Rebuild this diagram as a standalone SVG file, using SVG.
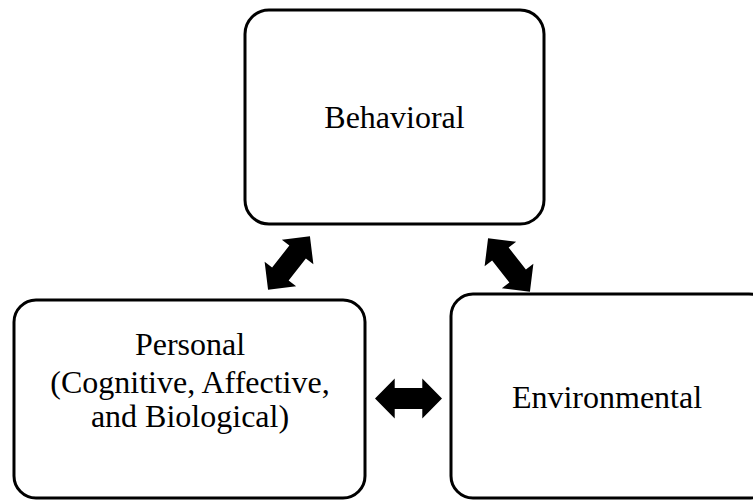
<svg xmlns="http://www.w3.org/2000/svg" width="753" height="500" viewBox="0 0 753 500">
<style>
.box{fill:#fff;stroke:#000;stroke-width:3}
.lbl{font-family:"Liberation Serif","Times New Roman",serif;font-size:32px;fill:#000;text-anchor:middle}
.arr{fill:#000;stroke:none}
</style>
<defs>
<polygon id="dbl" points="-34,0 -14,-20 -14,-10.5 14,-10.5 14,-20 34,0 14,20 14,10.5 -14,10.5 -14,20"/>
</defs>
<rect width="753" height="500" fill="#fff"/>
<g id="connectors" class="arr">
<use href="#dbl" transform="translate(289,263) rotate(-52)"/>
<use href="#dbl" transform="translate(509,265) rotate(52)"/>
<use href="#dbl" transform="translate(408.5,398.5) scale(0.985,1)"/>
</g>
<g id="behavioral">
<rect class="box" x="245" y="10" width="299" height="214" rx="24"/>
<text class="lbl" x="394.5" y="128">Behavioral</text>
</g>
<g id="personal">
<rect class="box" x="14" y="300" width="351" height="198" rx="22"/>
<text class="lbl" x="190" y="355">Personal</text>
<text class="lbl" x="190" y="393">(Cognitive, Affective,</text>
<text class="lbl" x="190" y="427">and Biological)</text>
</g>
<g id="environmental">
<rect class="box" x="451" y="294" width="320" height="204" rx="22"/>
<text class="lbl" x="607" y="408">Environmental</text>
</g>
</svg>
